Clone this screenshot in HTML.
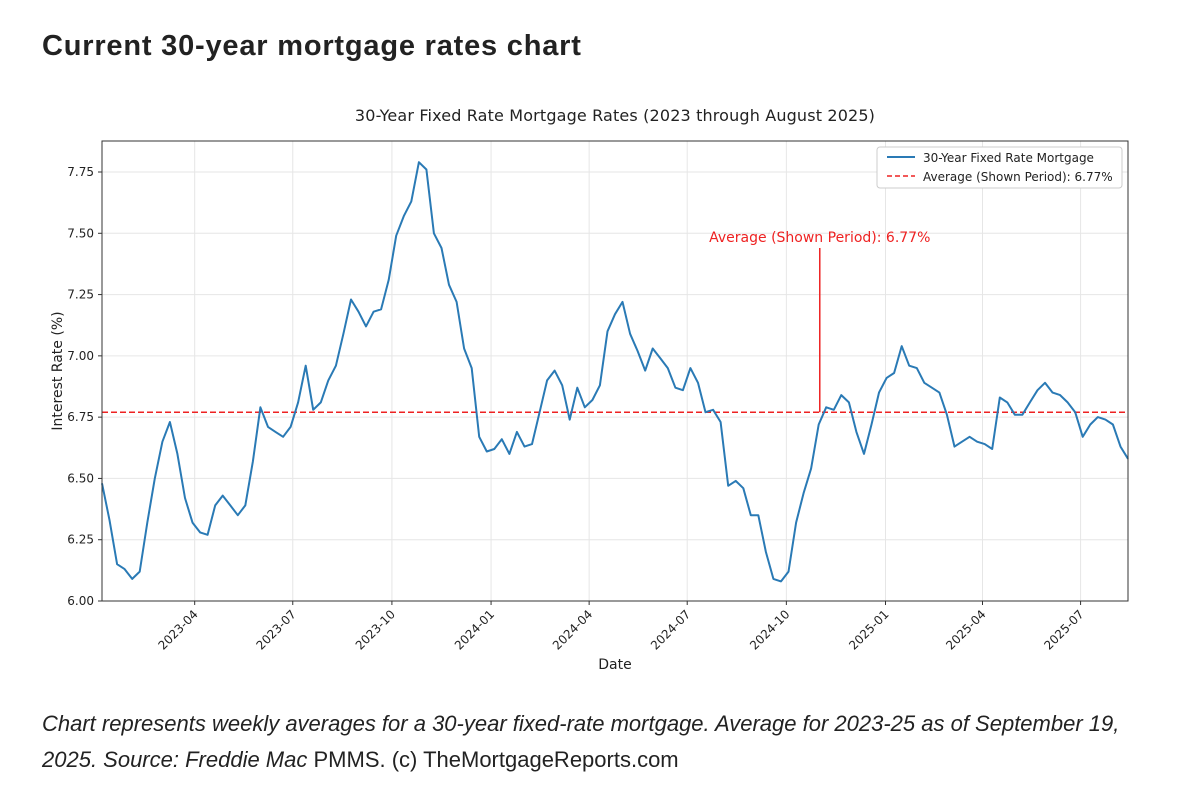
<!DOCTYPE html>
<html><head><meta charset="utf-8"><style>
body{margin:0;background:#fff;width:1185px;height:795px;overflow:hidden;font-family:"DejaVu Sans","Liberation Sans",sans-serif}
h1{position:absolute;left:42px;top:30px;margin:0;font:bold 29px "Liberation Sans",sans-serif;color:#222;letter-spacing:0.8px}
.cap{position:absolute;left:42px;top:706px;font:22px/36px "Liberation Sans",sans-serif;color:#222;width:1120px}
</style></head><body>
<h1>Current 30-year mortgage rates chart</h1>
<svg id="chart" width="1185" height="700" style="position:absolute;left:0;top:0" font-family="DejaVu Sans, Liberation Sans, sans-serif"></svg>
<div class="cap"><i>Chart represents weekly averages for a 30-year fixed-rate mortgage. Average for 2023-25 as of September 19, 2025. Source: Freddie Mac</i> PMMS. (c) TheMortgageReports.com</div>
<script>
const startDate="2023-01-05";
const rates=[6.48,6.33,6.15,6.13,6.09,6.12,6.32,6.50,6.65,6.73,6.60,6.42,6.32,6.28,6.27,6.39,6.43,6.39,6.35,6.39,6.57,6.79,6.71,6.69,6.67,6.71,6.81,6.96,6.78,6.81,6.90,6.96,7.09,7.23,7.18,7.12,7.18,7.19,7.31,7.49,7.57,7.63,7.79,7.76,7.50,7.44,7.29,7.22,7.03,6.95,6.67,6.61,
6.62,6.66,6.60,6.69,6.63,6.64,6.77,6.90,6.94,6.88,6.74,6.87,6.79,6.82,6.88,7.10,7.17,7.22,7.09,7.02,6.94,7.03,6.99,6.95,6.87,6.86,6.95,6.89,6.77,6.78,6.73,6.47,6.49,6.46,6.35,6.35,6.20,6.09,6.08,6.12,6.32,6.44,6.54,6.72,6.79,6.78,6.84,6.81,6.69,6.60,6.72,6.85,
6.91,6.93,7.04,6.96,6.95,6.89,6.87,6.85,6.76,6.63,6.65,6.67,6.65,6.64,6.62,6.83,6.81,6.76,6.76,6.81,6.86,6.89,6.85,6.84,6.81,6.77,6.67,6.72,6.75,6.74,6.72,6.63,6.58];
const average=6.77;
const yTicks=[6.00,6.25,6.50,6.75,7.00,7.25,7.50,7.75];
const xTicks=["2023-04","2023-07","2023-10","2024-01","2024-04","2024-07","2024-10","2025-01","2025-04","2025-07"];
const annotDate="2024-11-01";
const NS="http://www.w3.org/2000/svg";
const svg=document.getElementById('chart');
const L=102,R=1128,T=141,B=601;
const t0=Date.parse(startDate);
const tEnd=t0+(rates.length-1)*7*864e5;
const X=t=>L+(t-t0)/(tEnd-t0)*(R-L);
const Y=v=>B-(v-6.0)/(7.75-6.0)*(B-172);
function el(tag,a,parent){const e=document.createElementNS(NS,tag);for(const k in a)e.setAttribute(k,a[k]);(parent||svg).appendChild(e);return e;}
function txt(s,a){const e=el('text',a);e.textContent=s;return e;}
let e;
e=txt("30-Year Fixed Rate Mortgage Rates (2023 through August 2025)",{x:615,y:121,'text-anchor':'middle','font-size':16,fill:'#222','letter-spacing':0.15});


yTicks.forEach(v=>{const y=Y(v);
 el('line',{x1:L,x2:R,y1:y,y2:y,stroke:'#e6e6e6','stroke-width':1});
 el('line',{x1:L-4,x2:L,y1:y,y2:y,stroke:'#333'});
 e=txt(v.toFixed(2),{x:L-8,y:y+4,'text-anchor':'end','font-size':12,fill:'#222'});
 
 
});
xTicks.forEach(s=>{const x=X(Date.parse(s+"-01"));
 el('line',{x1:x,x2:x,y1:T,y2:B,stroke:'#e6e6e6','stroke-width':1});
 el('line',{x1:x,x2:x,y1:B,y2:B+4,stroke:'#333'});
 e=txt(s,{x:x+4,y:B+14,'text-anchor':'end','font-size':12,fill:'#222',transform:`rotate(-45 ${x+4} ${B+14})`});
 
 
});
const ya=Y(average);
e=el('line',{x1:L,x2:R,y1:ya,y2:ya,stroke:'#ee2222','stroke-width':1.6,'stroke-dasharray':'6,3'});


const pts=rates.map((v,i)=>X(t0+i*7*864e5).toFixed(1)+","+Y(v).toFixed(1)).join(" ");
e=el('polyline',{points:pts,fill:'none',stroke:'#2a7ab5','stroke-width':2,'stroke-linejoin':'round'});


const xa=X(Date.parse(annotDate));
e=el('line',{x1:xa,x2:xa,y1:248,y2:ya,stroke:'#ee2222','stroke-width':1.5});


e=txt("Average (Shown Period): "+average.toFixed(2)+"%",{x:xa,y:242,'text-anchor':'middle','font-size':14,fill:'#ee2222'});


el('rect',{x:L,y:T,width:R-L,height:B-T,fill:'none',stroke:'#333','stroke-width':1});
const lg=el('g',{});


el('rect',{x:877,y:147,width:245,height:41,fill:'#fff',stroke:'#ccc',rx:3},lg);
el('line',{x1:887,x2:915,y1:157,y2:157,stroke:'#2a7ab5','stroke-width':2},lg);
el('line',{x1:887,x2:915,y1:176,y2:176,stroke:'#ee2222','stroke-width':1.6,'stroke-dasharray':'5,3'},lg);
let t=el('text',{x:923,y:162,'font-size':12,fill:'#222'},lg);t.textContent="30-Year Fixed Rate Mortgage";
t=el('text',{x:923,y:181,'font-size':12,fill:'#222'},lg);t.textContent="Average (Shown Period): 6.77%";
e=txt("Date",{x:615,y:669,'text-anchor':'middle','font-size':14,fill:'#222'});


e=txt("Interest Rate (%)",{x:62,y:371,'text-anchor':'middle','font-size':14,fill:'#222',transform:'rotate(-90 62 371)'});


</script>
</body></html>
